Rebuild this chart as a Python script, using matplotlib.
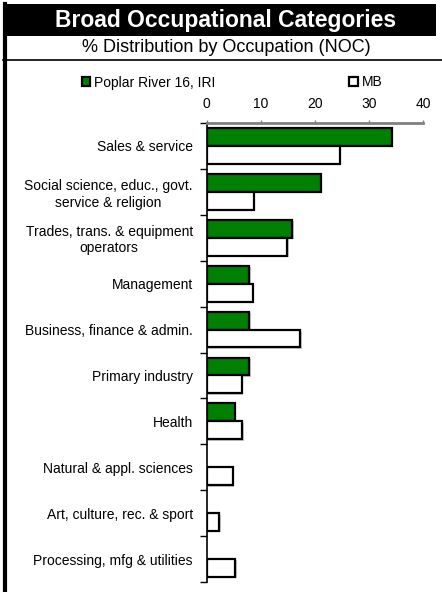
import numpy as np
import matplotlib
matplotlib.use("Agg")
import matplotlib.pyplot as plt
import matplotlib.patches as mpatches
import matplotlib.patheffects as pe
from matplotlib.lines import Line2D

plt.rcParams["font.family"] = ["Liberation Sans", "DejaVu Sans"]

# ── data ──────────────────────────────────────────────
categories = [
    "Sales & service",
    "Social science, educ., govt.\nservice & religion",
    "Trades, trans. & equipment\noperators",
    "Management",
    "Business, finance & admin.",
    "Primary industry",
    "Health",
    "Natural & appl. sciences",
    "Art, culture, rec. & sport",
    "Processing, mfg & utilities",
]
# no Poplar River value shown for the last three categories
poplar = [34.2, 21.1, 15.8, 7.9, 7.9, 7.9, 5.2, np.nan, np.nan, np.nan]
mb = [24.6, 8.7, 14.9, 8.5, 17.3, 6.5, 6.6, 4.8, 2.3, 5.3]
series_names = ["Poplar River 16, IRI", "MB"]
xticks = [0, 10, 20, 30, 40]

GREEN = "#008000"
W, H = 442, 592

fig = plt.figure(figsize=(W / 100, H / 100), dpi=100)

# ── header: black title bar, subtitle, frame lines ────
fig.patches.append(mpatches.Rectangle((3 / W, 1 - 36 / H), 433 / W, 32 / H,
                                      transform=fig.transFigure,
                                      facecolor="black", edgecolor="none"))
fig.text(226 / W, 1 - 20.5 / H, "Broad Occupational Categories", color="white",
         fontsize=16.5, fontweight="bold", ha="center", va="center")
fig.text(226 / W, 1 - 47.5 / H, "% Distribution by Occupation (NOC)",
         fontsize=13, ha="center", va="center")
fig.lines.append(Line2D([3 / W, 1], [1 - 59.5 / H, 1 - 59.5 / H],
                        transform=fig.transFigure, color="black", lw=1.2))
fig.lines.append(Line2D([5 / W, 5 / W], [0, 1 - 4 / H],
                        transform=fig.transFigure, color="black", lw=3))

# ── bars ──────────────────────────────────────────────
ax = fig.add_axes([206.7 / W, 1 - 582 / H, (423.3 - 206.7) / W, (582 - 123) / H])
y = np.arange(len(categories))
h = 0.39
shadow = [pe.SimplePatchShadow(offset=(1, -1), shadow_rgbFace="#999999", alpha=0.5), pe.Normal()]
ax.barh(y - h / 2, poplar, height=h, color=GREEN, edgecolor="black", linewidth=1.6,
        path_effects=shadow)
ax.barh(y + h / 2, mb, height=h, color="white", edgecolor="black", linewidth=1.6,
        path_effects=shadow)

ax.set_xlim(0, 40)
ax.set_ylim(len(categories) - 0.5, -0.5)
ax.xaxis.tick_top()
ax.set_xticks(xticks)
ax.set_xticklabels([str(t) for t in xticks], fontsize=10)
ax.tick_params(axis="x", direction="out", length=2.5, width=1, color="#808080", pad=6)

ax.set_yticks(y)
ax.set_yticklabels(categories, fontsize=10, multialignment="center")
ax.tick_params(axis="y", length=0, pad=10)
ax.set_yticks(np.arange(-0.5, len(categories) + 0.5, 1), minor=True)
ax.tick_params(axis="y", which="minor", direction="out", length=5, width=1)

for s in ["right", "bottom"]:
    ax.spines[s].set_visible(False)
ax.spines["top"].set_color("#808080")
ax.spines["top"].set_linewidth(2)
ax.spines["left"].set_linewidth(1.2)

# legend
handles = [
    mpatches.Patch(facecolor=GREEN, edgecolor="black", linewidth=1.6, label=series_names[0]),
    mpatches.Patch(facecolor="white", edgecolor="black", linewidth=1.6, label=series_names[1]),
]
fig.legend(handles=handles, loc="center left", bbox_to_anchor=(82 / W, 1 - 82.5 / H),
           ncol=2, frameon=False, fontsize=10, handlelength=0.6, handleheight=0.6,
           handletextpad=0.3, columnspacing=9.6, borderpad=0, borderaxespad=0)

fig.savefig("out.png", dpi=100)
